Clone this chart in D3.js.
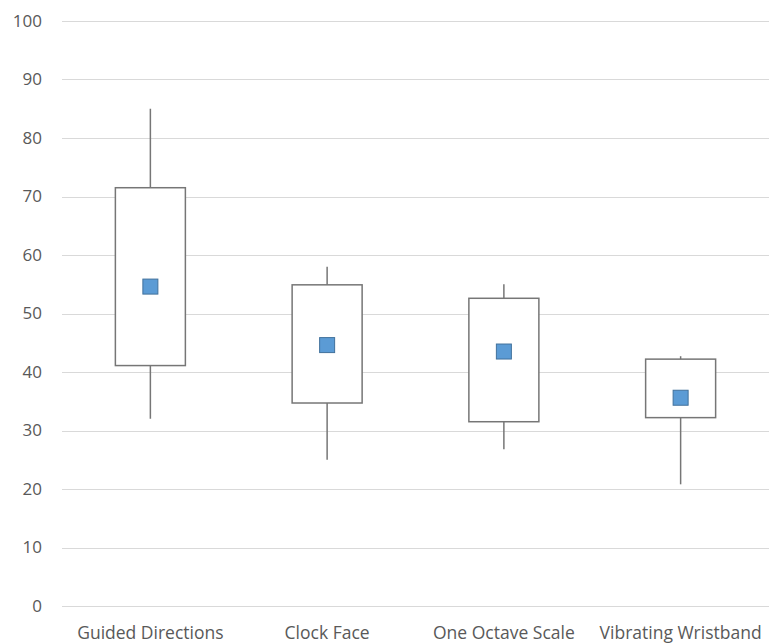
<!DOCTYPE html>
<html>
<head>
<meta charset="utf-8">
<script src="https://cdn.jsdelivr.net/npm/d3@7"></script>
<style>
  body { margin: 0; background: #fff; }
  text { font-family: "Open Sans", "Liberation Sans", sans-serif; fill: #595959; }
</style>
</head>
<body>
<div id="chart"></div>
<script>
const layout = {
    width: 769,
    height: 644,
    marginTop: 21,
    marginBottom: 38,
    marginLeft: 62,
    marginRight: 0
};

// data
const categories = ["Guided Directions", "Clock Face", "One Octave Scale", "Vibrating Wristband"];
const whiskerHigh = [85, 58, 55, 42.7];
const boxHigh = [71.5, 54.9, 52.6, 42.2];
const boxLow = [41.1, 34.7, 31.5, 32.2];
const whiskerLow = [32, 25, 26.8, 20.8];
const means = [54.6, 44.6, 43.5, 35.6];
const yTicks = [0, 10, 20, 30, 40, 50, 60, 70, 80, 90, 100];

const rows = categories.map((c, i) => ({
    name: c,
    hi: whiskerHigh[i],
    q3: boxHigh[i],
    q1: boxLow[i],
    lo: whiskerLow[i],
    mean: means[i]
}));

const svg = d3.select("#chart").append("svg")
    .attr("width", layout.width)
    .attr("height", layout.height);

const x = d3.scaleBand()
    .domain(categories)
    .range([layout.marginLeft, layout.width - layout.marginRight]);
const y = d3.scaleLinear()
    .domain([0, 100])
    .range([layout.height - layout.marginBottom, layout.marginTop]);

// gridlines
svg.append("g").selectAll("line").data(yTicks).join("line")
    .attr("x1", layout.marginLeft)
    .attr("x2", layout.width - layout.marginRight)
    .attr("y1", d => Math.round(y(d)) + 0.5)
    .attr("y2", d => Math.round(y(d)) + 0.5)
    .attr("stroke", "#d9d9d9")
    .attr("stroke-width", 1);

// y tick labels
svg.append("g").selectAll("text").data(yTicks).join("text")
    .attr("x", 42)
    .attr("y", d => y(d))
    .attr("dy", "0.35em")
    .attr("text-anchor", "end")
    .attr("font-size", 17)
    .text(d => d);

// x labels
svg.append("g").selectAll("text").data(categories).join("text")
    .attr("x", d => x(d) + x.bandwidth() / 2)
    .attr("y", 639)
    .attr("text-anchor", "middle")
    .attr("font-size", 17.5)
    .text(d => d);

const boxW = 70;
const g = svg.append("g").selectAll("g").data(rows).join("g")
    .attr("transform", d => `translate(${x(d.name) + x.bandwidth() / 2},0)`);

// whiskers
g.append("line")
    .attr("x1", 0).attr("x2", 0)
    .attr("y1", d => y(d.hi))
    .attr("y2", d => y(d.lo))
    .attr("stroke", "#767676")
    .attr("stroke-width", 1.5);

// boxes
g.append("rect")
    .attr("x", -boxW / 2)
    .attr("width", boxW)
    .attr("y", d => y(d.q3))
    .attr("height", d => y(d.q1) - y(d.q3))
    .attr("fill", "#fff")
    .attr("stroke", "#767676")
    .attr("stroke-width", 1.5);

// mean markers
g.append("rect")
    .attr("x", -7.5)
    .attr("width", 15)
    .attr("y", d => y(d.mean) - 7.5)
    .attr("height", 15)
    .attr("fill", "#5b9bd5")
    .attr("stroke", "#41719c")
    .attr("stroke-width", 1);
</script>
</body>
</html>
